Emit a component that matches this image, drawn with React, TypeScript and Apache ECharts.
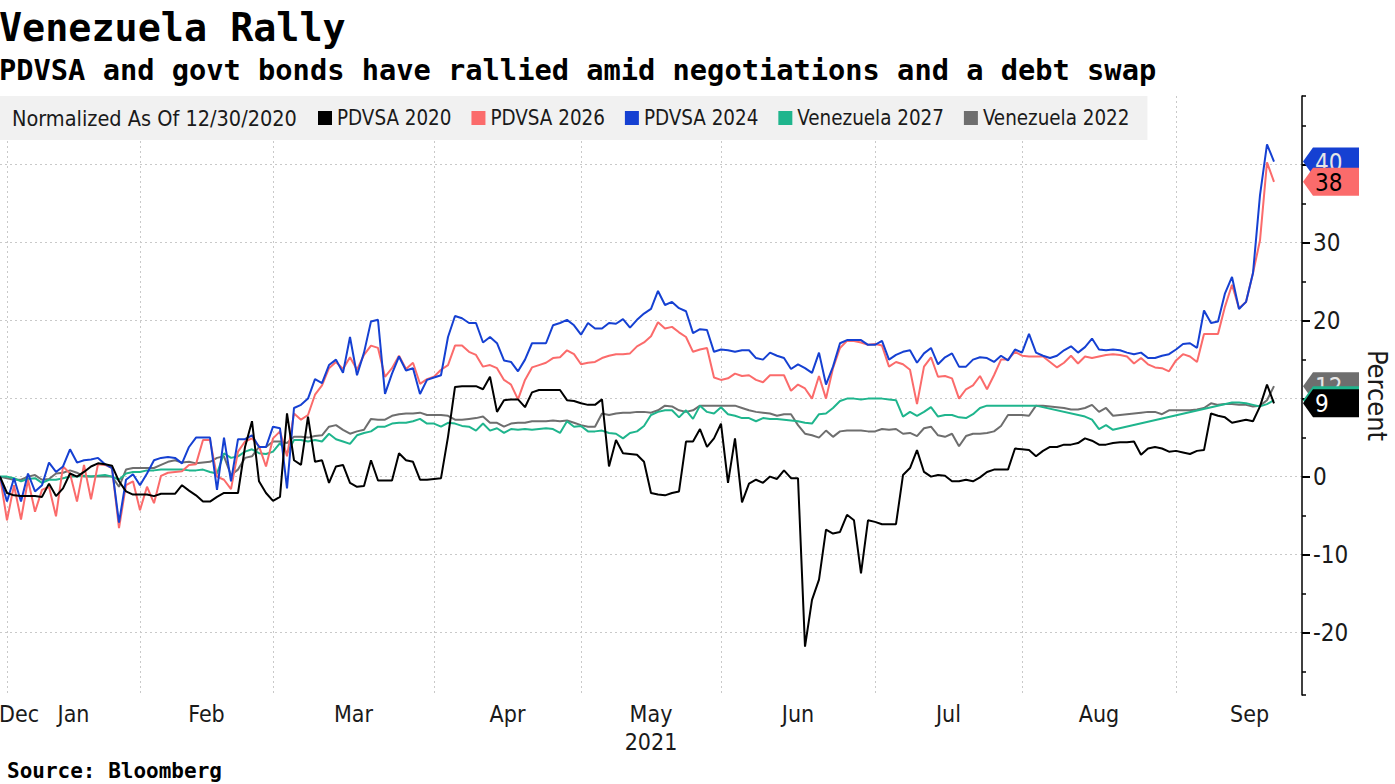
import React, { useEffect, useRef } from 'react';
import * as echarts from 'echarts';

// ---------- texts ----------
const TITLE = 'Venezuela Rally';
const SUBTITLE = 'PDVSA and govt bonds have rallied amid negotiations and a debt swap';
const SOURCE = 'Source: Bloomberg';
const LEGEND_PREFIX = 'Normalized As Of 12/30/2020';
const Y_AXIS_NAME = 'Percent';
const YEAR_LABEL = '2021';
const YEAR_UNDER_MONTH = 'May';

// ---------- trading-day calendar ----------
const FIRST_DAY = '2020-12-30';
const LAST_CALENDAR_DAY = '2021-09-30';
const AXIS_DAY_COUNT = 187; // axis runs to 2021-09-27
const HOLIDAYS = ['2021-01-01', '2021-01-18', '2021-02-15', '2021-04-02', '2021-05-31', '2021-07-05', '2021-09-06'];
const MONTH_NAMES = ['Jan', 'Feb', 'Mar', 'Apr', 'May', 'Jun', 'Jul', 'Aug', 'Sep', 'Oct', 'Nov', 'Dec'];

// ---------- y axis ----------
const Y_MIN = -28;
const Y_MAX = 48.8;

// ---------- series (percent change since 12/30/2020, one value per trading day) ----------
const SERIES_NAMES = ['PDVSA 2020', 'PDVSA 2026', 'PDVSA 2024', 'Venezuela 2027', 'Venezuela 2022'];

const PDVSA_2020 = [
  0, -2.1, -2.4, -2.5, -2.5, -2.5, -2.6, -0.9, -2.5, -1.5,
  0.4, 0, 0.6, 1.3, 1.7, 1.6, 1.4, -0.6, -1.9, -2.3,
  -2.3, -2.3, -2.5, -2.2, -2.2, -2.2, -1.1, -1.8, -2.4, -3.2,
  -3.2, -2.6, -2.1, -2.1, -2.1, 3.8, 7.1, -0.6, -2.1, -3.1,
  -2.6, 8.1, 2.1, 1.5, 7.7, 1.9, 2.1, -0.8, 1.3, 1.5,
  -0.8, -1.3, -1.2, 2.1, -0.5, -0.5, -0.5, 3.0, 2.1, 1.9,
  -0.4, -0.4, -0.3, -0.2, 5.1, 11.5, 11.6, 11.6, 11.6, 11.2,
  12.8, 8.3, 9.8, 9.9, 9.9, 8.9, 10.8, 11.1, 11.1, 11.1,
  11.1, 9.8, 9.7, 9.4, 9.2, 9.2, 9.9, 1.3, 4.7, 3.0,
  2.9, 2.8, 1.9, -2.1, -2.3, -2.4, -2.1, -1.9, 4.5, 4.5,
  6.1, 3.8, 4.9, 6.8, -0.8, 4.9, -3.3, -0.9, -0.4, -0.8,
  0, -0.3, 0.8, -0.2, -0.2, -21.8, -15.8, -13.2, -6.8, -7.3,
  -7.1, -4.9, -5.6, -12.4, -5.6, -5.8, -6.1, -6.1, -6.1, 0.2,
  1.1, 3.4, 0.6, 0, 0.2, 0.1, -0.6, -0.6, -0.4, -0.6,
  -0.1, 0.6, 0.9, 0.9, 0.9, 3.6, 3.5, 3.4, 2.6, 3.3,
  3.8, 3.8, 4.1, 4.1, 4.3, 4.9, 4.6, 4.1, 4.1, 4.3,
  4.4, 4.4, 4.5, 2.8, 3.6, 3.8, 3.6, 3.2, 3.3, 3.1,
  2.9, 3.3, 3.4, 8.1, 7.8, 7.6, 6.9, 7.1, 7.3, 7.1,
  9.0, 11.8, 9.4,
];

const PDVSA_2026 = [
  0, -5.6, -1.1, -5.5, -0.4, -4.5, -1.7, -1.3, -5.1, 1.3,
  0.4, -3.2, 1.5, -2.9, 1.6, 1.5, 1.1, -6.6, -1.1, -0.6,
  -4.3, -1.3, -3.4, 0.1, 0.5, 0.6, 0.7, 1.5, 1.6, 4.7,
  4.7, 0.0, -0.4, -1.6, 3.2, 4.5, 4.9, 3.9, 1.3, 4.9,
  5.8, 2.6, 8.1, 7.3, 7.9, 10.5, 11.7, 13.9, 14.7, 13.8,
  15.3, 13.7, 15.6, 16.8, 16.5, 12.8, 13.9, 15.5, 13.8, 14.6,
  11.9, 12.5, 12.8, 13.7, 14.3, 16.8, 16.8, 16.0, 15.6, 14.1,
  14.3, 13.9, 12.4, 11.8, 9.9, 12.4, 14.0, 14.3, 14.6, 15.2,
  15.3, 16.2, 15.7, 14.4, 14.6, 14.7, 15.2, 15.5, 15.7, 15.7,
  15.8, 16.7, 17.2, 18.0, 19.8, 19.0, 19.2, 18.5, 17.9, 16.0,
  16.3, 16.5, 12.7, 12.4, 12.6, 13.2, 12.9, 13.0, 12.4, 12.1,
  13.0, 13.0, 13.0, 11.0, 11.8, 11.3, 10.0, 12.9, 10.0, 13.9,
  16.5, 17.4, 17.4, 17.2, 16.9, 17.0, 16.8, 14.1, 14.7, 14.4,
  13.7, 9.3, 14.1, 15.3, 12.8, 12.9, 12.6, 10.0, 11.2, 11.7,
  12.9, 11.2, 13.0, 15.0, 15.0, 16.0, 15.5, 15.4, 15.4, 15.4,
  14.7, 14.0, 14.6, 15.5, 14.5, 15.4, 15.2, 15.4, 15.6, 15.7,
  15.6, 15.4, 14.5, 15.2, 14.4, 14.0, 13.9, 13.5, 14.9, 15.7,
  15.4, 14.7, 18.3, 18.3, 18.3, 21.8, 24.6, 21.6, 22.4, 26.1,
  30.3, 40.3, 37.8,
];

const PDVSA_2024 = [
  0, -3.2, -0.2, -3.2, 0.4, -1.9, -1.1, 1.8, 0.6, 1.3,
  3.5, 1.8, 2.1, 2.2, 2.4, 1.6, 1.1, -5.9, -0.4, 0.3,
  -1.1, 0.4, 2.1, 2.4, 2.5, 2.4, 1.7, 3.8, 5.0, 5.0,
  5.0, -1.7, 5.0, -0.6, 4.8, 4.8, 5.3, 3.8, 3.8, 6.4,
  6.2, -1.5, 8.8, 9.2, 10.0, 12.5, 12.0, 14.3, 15.0, 13.3,
  17.9, 13.0, 15.9, 19.9, 20.1, 10.6, 13.2, 15.4, 13.6, 13.9,
  10.6, 12.4, 12.7, 13.0, 17.9, 20.6, 20.3, 19.7, 19.7, 17.2,
  17.9, 17.1, 14.9, 14.7, 13.5, 15.0, 17.1, 17.1, 17.1, 19.4,
  19.7, 20.1, 19.4, 18.2, 19.7, 19.0, 19.0, 19.7, 19.6, 20.2,
  19.1, 20.1, 20.9, 21.5, 23.8, 22.0, 22.4, 21.6, 21.2, 18.4,
  18.9, 18.8, 16.0, 16.3, 16.2, 16.0, 16.2, 16.2, 15.2, 15.0,
  15.9, 15.5, 15.2, 13.8, 14.4, 13.9, 13.3, 15.9, 11.8, 14.1,
  17.1, 17.5, 17.5, 17.5, 16.9, 16.9, 17.4, 15.0, 15.6, 16.0,
  16.2, 14.6, 15.8, 16.5, 14.4, 15.3, 15.8, 14.1, 14.1, 15.0,
  15.3, 15.2, 14.7, 15.5, 14.9, 16.3, 15.9, 18.3, 15.9, 15.5,
  15.2, 15.5, 16.2, 16.7, 15.9, 16.6, 17.7, 16.3, 16.2, 16.3,
  16.2, 15.9, 15.7, 15.9, 15.2, 15.2, 15.5, 15.7, 16.3, 17.0,
  17.1, 16.5, 21.3, 19.7, 19.9, 23.5, 25.6, 21.5, 22.4, 26.1,
  36.1, 42.6, 40.4,
];

const VENEZUELA_2027 = [
  0, 0, -0.2, -0.6, -0.3, -0.2, -0.8, -0.4, -0.4, -0.2,
  0, 0, 0.1, 0, 0.1, 0.2, 0, -0.4, 0.4, 0.6,
  0.6, 0.8, 0.8, 0.9, 0.9, 0.9, 0.9, 0.8, 0.8, 0.9,
  0.6, 0.4, 3.0, 2.4, 2.6, 3.2, 3.5, 3.0, 2.9, 3.2,
  4.3, 3.0, 4.7, 4.7, 4.5, 4.7, 4.5, 5.5, 4.8, 4.5,
  4.2, 5.3, 5.6, 5.8, 6.4, 6.4, 6.8, 6.9, 6.9, 7.1,
  7.4, 6.8, 6.8, 6.4, 6.9, 6.8, 6.5, 6.4, 5.9, 6.8,
  5.9, 6.2, 5.6, 6.1, 6.0, 6.1, 6.0, 6.1, 6.2, 6.1,
  5.6, 7.1, 6.4, 6.5, 5.8, 5.8, 5.9, 5.6, 5.5, 4.9,
  5.6, 5.8, 6.5, 7.9, 8.3, 8.5, 8.5, 7.6, 8.5, 7.4,
  9.1, 8.3, 8.1, 8.9, 8.0, 7.8, 7.5, 7.5, 7.1, 7.5,
  7.4, 7.4, 7.3, 7.2, 7.1, 6.9, 6.8, 8.0, 8.1, 8.8,
  9.7, 10.0, 10.0, 9.9, 10.0, 10.0, 10.0, 9.9, 9.8, 7.7,
  8.3, 7.8, 8.3, 8.9, 7.7, 7.9, 7.9, 7.6, 7.5, 8.0,
  8.8, 9.1, 9.1, 9.1, 9.1, 9.1, 9.1, 9.1, 9.1, null,
  null, null, null, null, null, 7.7, 7.3, 6.1, 6.6, 6.0,
  null, null, null, null, null, null, null, null, null, null,
  null, null, null, null, null, null, 9.5, 9.5, 9.4, 9.2,
  9.0, 9.3, 9.8,
];

const VENEZUELA_2022 = [
  0, -0.2, -0.4, -0.4, 0, 0.2, -0.4, -0.3, 0.4, 0.5,
  0.8, 0.5, 0, 0, 0, 0, 0, -1.3, 0.9, 1.1,
  1.1, 1.1, 1.1, 1.5, 1.9, 2.1, 1.8, 1.9, 1.7, 1.8,
  1.9, 2.4, 2.6, 0.2, 0.9, 2.4, 2.6, 3.8, 3.8, 4.5,
  4.5, 4.3, 5.1, 5.1, 5.0, 5.2, 5.3, 6.4, 6.6, 6.0,
  5.5, 5.8, 6.0, 7.4, 7.3, 7.3, 7.8, 8.0, 8.1, 8.1,
  8.2, 7.9, 7.9, 7.9, 7.8, 7.3, 7.3, 7.4, 7.5, 7.7,
  6.9, 6.9, 6.4, 6.8, 6.9, 6.9, 7.1, 7.1, 7.1, 7.2,
  7.1, 7.2, 6.9, 6.6, 6.4, 6.4, 8.1, 7.9, 8.1, 8.2,
  8.2, 8.3, 8.3, 8.2, 8.5, 9.1, 9.0, 8.5, 8.3, 8.5,
  9.1, 9.1, 9.1, 9.1, 9.1, 9.1, 8.8, 8.5, 8.3, 8.2,
  8.1, 7.8, 8.0, 8.0, 6.6, 5.5, 5.3, 5.0, 5.9, 5.1,
  5.8, 5.9, 5.9, 5.9, 5.8, 5.8, 6.1, 6.0, 6.1, 5.5,
  5.6, 5.2, 6.2, 6.4, 5.3, 5.1, 5.5, 3.9, 5.2, 5.5,
  5.5, 5.6, 5.8, 6.5, 7.9, 7.9, 7.9, 7.8, 9.1, 9.1,
  9.0, 8.9, 8.8, 8.6, 8.6, 8.8, 9.2, 8.3, 8.8, 7.8,
  7.9, 8.0, 8.1, 8.2, 8.3, 8.3, 8.0, 8.5, 8.5, 8.5,
  8.5, 8.6, 8.8, 9.4, 9.2, 9.3, 9.3, 9.2, 9.2, 9.0,
  9.1, 9.8, 11.6,
];

// ---------- styling ----------
const COLORS: Record<string, string> = {
  'PDVSA 2020': '#000000',
  'PDVSA 2026': '#fb6b6b',
  'PDVSA 2024': '#1540d2',
  'Venezuela 2027': '#1fb58d',
  'Venezuela 2022': '#6e6e6e',
};
const BADGE_TEXT: Record<string, string> = {
  'PDVSA 2020': '#ffffff',
  'PDVSA 2026': '#000000',
  'PDVSA 2024': '#e6e6e6',
  'Venezuela 2027': '#000000',
  'Venezuela 2022': '#e6e6e6',
};
const COND = '"DejaVu Sans Condensed", "Liberation Sans Narrow", "Roboto", sans-serif';
const MONO = '"DejaVu Sans Mono", "Liberation Mono", monospace';
const GRID_LINE = { color: '#c9c9c9', width: 1, type: [2, 3] as number[] };

function buildTradingDays(): string[] {
  const out: string[] = [];
  const d = new Date(FIRST_DAY + 'T00:00:00Z');
  const end = new Date(LAST_CALENDAR_DAY + 'T00:00:00Z');
  while (d <= end) {
    const dow = d.getUTCDay();
    const s = d.toISOString().slice(0, 10);
    if (dow !== 0 && dow !== 6 && HOLIDAYS.indexOf(s) < 0) out.push(s);
    d.setUTCDate(d.getUTCDate() + 1);
  }
  return out;
}

export default function App() {
  const ref = useRef<HTMLDivElement>(null);

  useEffect(() => {
    if (!ref.current) return;
    const allDays = buildTradingDays();
    const days = allDays.slice(0, AXIS_DAY_COUNT);

    // last trading day index of every month (month boundaries)
    const monthEnd: number[] = [];
    for (let i = 0; i < allDays.length; i++) {
      const next = allDays[i + 1];
      if (!next || next.slice(0, 7) !== allDays[i].slice(0, 7)) monthEnd.push(i);
    }
    const splitSet = new Set(monthEnd.filter((i) => i < days.length - 1));
    // labels centred on each month span
    const labelMap = new Map<number, string>();
    labelMap.set(0, '{d|' + MONTH_NAMES[Number(allDays[0].slice(5, 7)) - 1] + '}');
    for (let m = 1; m < monthEnd.length; m++) {
      const c = (monthEnd[m - 1] + monthEnd[m]) / 2;
      const idx = Math.floor(c);
      const half = c !== idx;
      const name = MONTH_NAMES[Number(allDays[monthEnd[m]].slice(5, 7)) - 1];
      const style = half ? 'h' : 'n';
      let txt = '{' + style + '|' + name + '}';
      if (name === YEAR_UNDER_MONTH) txt += '\n{' + style + '|' + YEAR_LABEL + '}';
      labelMap.set(idx, txt);
    }

    const dataMap: Record<string, (number | null)[]> = {
      'PDVSA 2020': PDVSA_2020,
      'PDVSA 2026': PDVSA_2026,
      'PDVSA 2024': PDVSA_2024,
      'Venezuela 2027': VENEZUELA_2027,
      'Venezuela 2022': VENEZUELA_2022,
    };
    const drawOrder = ['Venezuela 2022', 'Venezuela 2027', 'PDVSA 2026', 'PDVSA 2024', 'PDVSA 2020'];

    const prefixText = {
      type: 'text',
      z: 100,
      style: {
        text: LEGEND_PREFIX,
        x: 12,
        y: 118,
        fill: '#1a1a1a',
        fontFamily: COND,
        fontSize: 21.5,
        align: 'left',
        verticalAlign: 'middle',
      },
    };

    const chart = echarts.init(ref.current, undefined, { renderer: 'svg' });
    chart.setOption({
      animation: false,
      backgroundColor: '#ffffff',
      title: [
        { text: TITLE, left: -1, top: 8, padding: 0, textStyle: { fontFamily: MONO, fontWeight: 'bold', fontSize: 38.4, color: '#000' } },
        { text: SUBTITLE, left: -1, top: 55, padding: 0, textStyle: { fontFamily: MONO, fontWeight: 'bold', fontSize: 28.7, color: '#000' } },
        { text: SOURCE, left: 7, top: 760, padding: 0, textStyle: { fontFamily: MONO, fontWeight: 'bold', fontSize: 21, color: '#000' } },
      ],
      legend: {
        left: 0,
        top: 96,
        orient: 'horizontal',
        data: SERIES_NAMES,
        icon: 'rect',
        itemWidth: 14,
        itemHeight: 14,
        itemGap: 20,
        padding: [11, 18, 11, 318],
        backgroundColor: '#f1f1f1',
        textStyle: { fontFamily: COND, fontSize: 20.4, color: '#1a1a1a', lineHeight: 22 },
        selectedMode: false,
      },
      grid: { left: 0, right: 93, top: 96, bottom: 89, containLabel: false, outerBoundsMode: 'none' },
      xAxis: {
        type: 'category',
        data: days,
        boundaryGap: false,
        axisLine: { show: false },
        axisTick: { show: false },
        splitLine: { show: true, interval: (i: number) => splitSet.has(i), lineStyle: GRID_LINE },
        axisLabel: {
          interval: (i: number) => labelMap.has(i),
          formatter: (_v: string, i: number) => labelMap.get(i) || '',
          margin: 5,
          color: '#1a1a1a',
          fontFamily: COND,
          fontSize: 23,
          rich: {
            n: { fontFamily: COND, fontSize: 23, color: '#1a1a1a', lineHeight: 28 },
            h: { fontFamily: COND, fontSize: 23, color: '#1a1a1a', lineHeight: 28, padding: [0, 0, 0, 7] },
            d: { fontFamily: COND, fontSize: 23, color: '#1a1a1a', lineHeight: 28, padding: [0, 0, 0, 38] },
          },
        },
      },
      yAxis: [
        {
          // minor ticks every 5
          type: 'value',
          position: 'right',
          min: Y_MIN,
          max: Y_MAX,
          minInterval: 5,
          maxInterval: 5,
          axisLine: { show: true, lineStyle: { color: '#000', width: 1.5 } },
          axisTick: { show: true, inside: false, length: 4, lineStyle: { color: '#000', width: 1.5 } },
          axisLabel: { show: false },
          splitLine: { show: false },
        },
        {
          // labelled ticks and grid every 10
          type: 'value',
          position: 'right',
          min: Y_MIN,
          max: Y_MAX,
          minInterval: 10,
          maxInterval: 10,
          name: Y_AXIS_NAME,
          nameLocation: 'middle',
          nameRotate: -90,
          nameGap: 62,
          nameTextStyle: { fontFamily: COND, fontSize: 27, color: '#1a1a1a' },
          axisLine: { show: false },
          axisTick: { show: true, inside: false, length: 8, lineStyle: { color: '#000', width: 2 } },
          axisLabel: {
            showMinLabel: false,
            showMaxLabel: false,
            margin: 11,
            fontFamily: COND,
            fontSize: 24,
            color: '#1a1a1a',
            formatter: (v: number) => (Math.abs(v % 10) < 1e-9 ? String(v) : ''),
          },
          splitLine: { show: true, showMinLine: false, showMaxLine: false, lineStyle: GRID_LINE },
        },
      ],
      series: drawOrder.map((name) => ({
        name,
        type: 'line',
        yAxisIndex: 1,
        data: dataMap[name],
        showSymbol: false,
        symbol: 'none',
        connectNulls: true,
        lineStyle: { color: COLORS[name], width: 2 },
        itemStyle: { color: COLORS[name] },
        emphasis: { disabled: true },
      })),
      graphic: [prefixText],
    });

    // value badges at the right axis
    const axisX = chart.convertToPixel({ xAxisIndex: 0 }, days[days.length - 1]) as number;
    const badgeOrder = ['PDVSA 2024', 'PDVSA 2026', 'Venezuela 2022', 'Venezuela 2027', 'PDVSA 2020'];
    const badges: any[] = [];
    badgeOrder.forEach((name, k) => {
      const arr = dataMap[name];
      let last: number | null = null;
      for (let i = arr.length - 1; i >= 0; i--) {
        if (arr[i] !== null) { last = arr[i] as number; break; }
      }
      if (last === null) return;
      const y = chart.convertToPixel({ yAxisIndex: 1 }, last) as number;
      const h = 14;
      badges.push({
        type: 'polygon',
        z: 110 + k * 2,
        shape: { points: [[axisX + 1, y], [axisX + 11, y - h], [axisX + 57, y - h], [axisX + 57, y + h], [axisX + 11, y + h]] },
        style: { fill: COLORS[name] },
      });
      badges.push({
        type: 'text',
        z: 111 + k * 2,
        style: {
          text: String(Math.round(last)),
          x: axisX + 13,
          y: y + 1,
          fill: BADGE_TEXT[name],
          fontFamily: COND,
          fontSize: 24,
          align: 'left',
          verticalAlign: 'middle',
        },
      });
    });
    chart.setOption({ graphic: [prefixText, ...badges] });

    return () => chart.dispose();
  }, []);

  return (
    <div
      ref={ref}
      style={{ position: 'absolute', left: 0, top: 0, width: 1395, height: 784, background: '#fff' }}
    />
  );
}
